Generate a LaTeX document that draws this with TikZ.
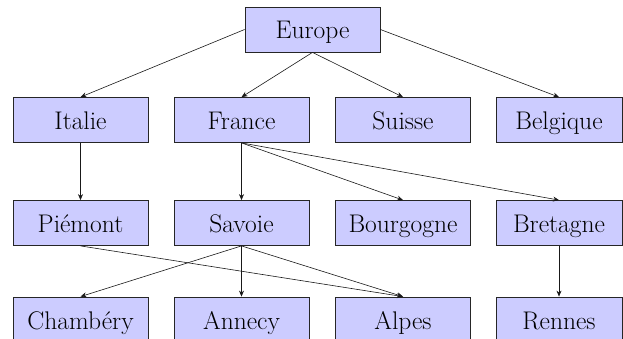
\documentclass[tikz,border=0pt]{standalone}
\usetikzlibrary{arrows.meta}
\begin{document}
\begin{tikzpicture}[x=1pt,y=-1pt,
  place/.style={draw=black!85, line width=0.8pt, fill={rgb,255:red,204;green,204;blue,255},
    minimum width=135pt, minimum height=45pt, inner sep=0pt,
    text height=23pt, text depth=4pt,
    font=\fontsize{25.5}{30}\selectfont},
  narrow/.style={minimum width=126pt},
  link/.style={draw=black!90, line width=0.6pt, -{Stealth[length=6pt,width=5pt]}}]
  \useasboundingbox (0,0) rectangle (623,339);
  \clip (0,0) rectangle (623,339);
  % top level
  \node[place] (europe) at (312.5,29.5) {Europe};
  % countries
  \node[place] (italie)   at (80.5,120) {Italie};
  \node[place] (france)   at (241.5,120) {France};
  \node[place] (suisse)   at (403,120) {Suisse};
  \node[place,narrow] (belgique) at (559,120) {Belgique};
  % regions
  \node[place] (piemont)   at (80.5,223) {Piémont};
  \node[place] (savoie)    at (241.5,223) {Savoie};
  \node[place] (bourgogne) at (403,223) {Bourgogne};
  \node[place,narrow] (bretagne)  at (559,223) {Bretagne};
  % cities and massifs
  \node[place] (chambery) at (80.5,319.5) {Chambéry};
  \node[place] (annecy)   at (241.5,319.5) {Annecy};
  \node[place] (alpes)    at (403,319.5) {Alpes};
  \node[place,narrow] (rennes)   at (559,319.5) {Rennes};
  % links
  \draw[link] (europe.west) -- (italie.north);
  \draw[link] (europe.south) -- (france.north);
  \draw[link] (europe.south) -- (suisse.north);
  \draw[link] (europe.east) -- (belgique.north);
  \draw[link] (italie.south) -- (piemont.north);
  \draw[link] (france.south) -- (savoie.north);
  \draw[link] (france.south) -- (bourgogne.north);
  \draw[link] (france.south) -- (bretagne.north);
  \draw[link] (piemont.south) -- (alpes.north);
  \draw[link] (savoie.south) -- (chambery.north);
  \draw[link] (savoie.south) -- (annecy.north);
  \draw[link] (savoie.south) -- (alpes.north);
  \draw[link] (bretagne.south) -- (rennes.north);
\end{tikzpicture}
\end{document}
